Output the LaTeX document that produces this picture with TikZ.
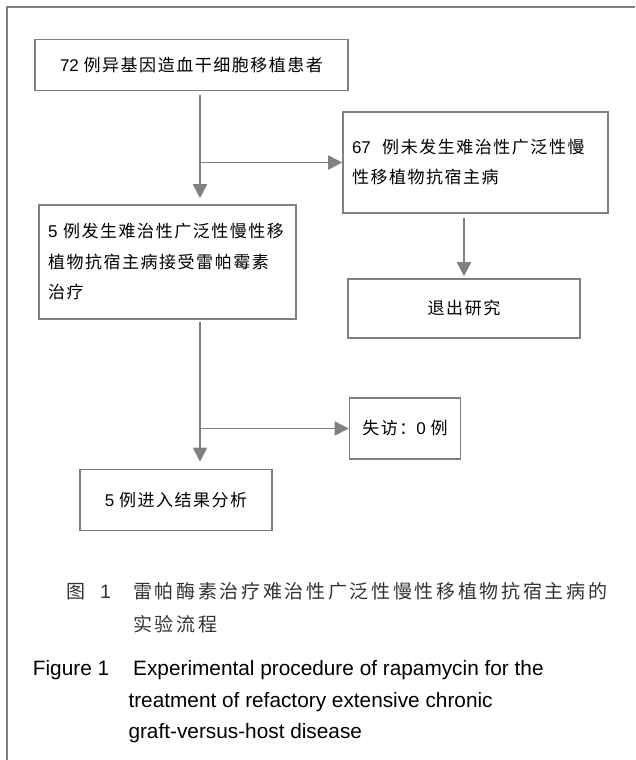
\documentclass[tikz,border=0pt]{standalone}
\usepackage{fontspec}
\setmainfont{Liberation Sans}
\newfontfamily\cjk[LetterSpace=9]{Noto Sans CJK SC}
\newfontfamily\cjkcap[LetterSpace=14]{Noto Sans CJK SC}
\usetikzlibrary{arrows.meta}
\newcommand\zh[1]{{\fontsize{17}{30}\selectfont\cjk #1}}
\definecolor{linegray}{RGB}{128,128,128}
\begin{document}
\begin{tikzpicture}[x=1pt,y=-1pt,
  box/.style={draw=linegray, line width=1.6pt, inner sep=0pt, text=black,
    font=\fontsize{17}{30}\selectfont},
  lbox/.style={box, align=left},
  arr/.style={draw=linegray, line width=1.8pt, -{Triangle[length=14pt,width=14pt]}},
  frame/.style={draw=linegray, line width=2pt},
  capzh/.style={anchor=base west, inner sep=0pt, text=black!80, font=\fontsize{19}{32}\selectfont\cjkcap},
  capen/.style={anchor=base west, inner sep=0pt, text=black, font=\fontsize{20.8}{32}\selectfont}]
\useasboundingbox (0,0) rectangle (635,760);
% frame (top and left edges only)
\draw[frame] (7,760) -- (7,7) -- (635,7);
% boxes
\node[box, minimum width=313pt, minimum height=51pt] (top) at (191.5,65)
  {72 \zh{例异基因造血干细胞移植患者}};
\node[lbox, inner xsep=9pt, text width=247pt, minimum height=101pt] (b1) at (475.5,162.5)
  {67~~\zh{例未发生难治性广泛性慢}\\\zh{性移植物抗宿主病}};
\node[lbox, inner xsep=9pt, text width=239pt, minimum height=114pt] (b2) at (167.5,262)
  {\fontsize{17}{31}\selectfont 5~\zh{例发生难治性广泛性慢性移}\\\zh{植物抗宿主病接受雷帕霉素}\\\zh{治疗}};
\node[box, minimum width=232pt, minimum height=59pt] (b3) at (464,308.5)
  {\zh{退出研究}};
\node[box, minimum width=111pt, minimum height=61pt] (b4) at (405,428.5)
  {\zh{失访：}0 \zh{例}};
\node[box, minimum width=192pt, minimum height=61pt] (b5) at (176,500)
  {5 \zh{例进入结果分析}};
% junctions
\coordinate (j1) at (200,162.5);
\coordinate (j2) at (200,428.5);
% connectors
\draw[arr, shorten <=4pt, shorten >=6pt] (top.south -| j1) -- (b2.north -| j1);
\draw[arr] (j1) -- (b1.west);
\draw[arr, shorten <=4pt, shorten >=2pt] (b1.south -| b3.north) -- (b3.north);
\draw[arr, shorten <=2pt, shorten >=7pt] (b2.south -| j2) -- (b5.north -| j2);
\draw[arr] (j2) -- (b4.west);
% captions
\node[capzh] (c1) at (66.5,598.5) {图};
\node[capen, font=\fontsize{19.5}{32}\selectfont, text=black!80] (c2) at (100,598.5) {1};
\node[capzh] (c3) at (133,598.5) {雷帕酶素治疗难治性广泛性慢性移植物抗宿主病的};
\node[capzh] (c4) at (133,631.5) {实验流程};
\node[capen] (e1) at (32.7,675.5) {Figure 1};
\node[capen] (e2) at (133,675.5) {Experimental procedure of rapamycin for the};
\node[capen] (e3) at (128.3,707) {treatment of refactory extensive chronic};
\node[capen] (e4) at (128.3,738) {graft-versus-host disease};
\end{tikzpicture}
\end{document}
